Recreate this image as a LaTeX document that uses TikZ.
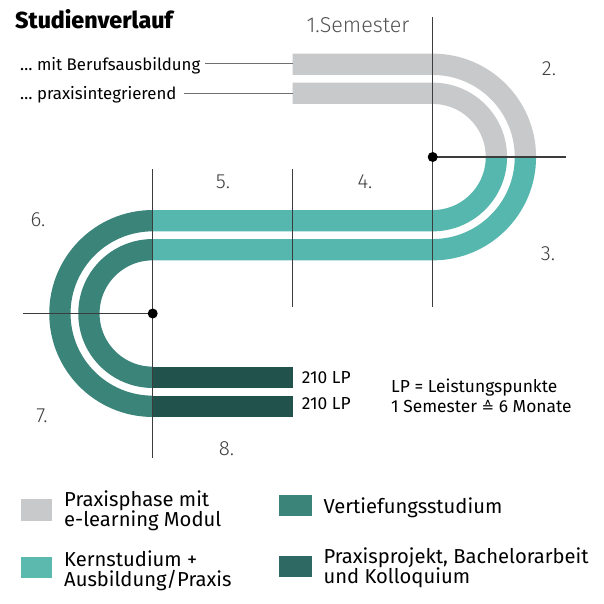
\documentclass[tikz,border=0pt]{standalone}
\usepackage{fontspec}
\setmainfont{Fira Sans}
\newfontfamily\lightfont{Fira Sans Light}
\newfontfamily\heavyfont{Fira Sans ExtraBold}
\newfontfamily\symfont{DejaVu Sans}
\definecolor{cgray}{HTML}{C8C9CA}
\definecolor{cteal}{HTML}{55B7AD}
\definecolor{cvert}{HTML}{3A847A}
\definecolor{cdark}{HTML}{22524C}
\definecolor{lteal}{HTML}{5BB9AE}
\definecolor{ldark}{HTML}{2F6963}
\definecolor{cline}{HTML}{3C3C3C}
\definecolor{cnum}{HTML}{404040}
\definecolor{clead}{HTML}{707070}
\tikzset{
  band/.style={line width=21.3pt, line cap=butt},
  gline/.style={draw=cline, line width=1.4pt},
  lead/.style={draw=clead, line width=1.1pt},
  num/.style={font=\lightfont\fontsize{20.5}{20.5}\selectfont, text=cnum, inner sep=0pt, anchor=center},
  small/.style={font=\fontsize{16.8}{16.8}\selectfont, inner sep=0pt, anchor=base west, text=black},
  note/.style={font=\fontsize{17.4}{17.4}\selectfont, inner sep=0pt, anchor=base west, text=black},
  leg/.style={font=\fontsize{20.2}{20.2}\selectfont, inner sep=0pt, anchor=base west, text=black},
}
\begin{document}
\begin{tikzpicture}[x=1pt,y=-1pt]
\useasboundingbox (0,0) rectangle (604,604);
\fill[white] (0,0) rectangle (604,604);
\coordinate (C1) at (432.7,157);
\coordinate (C2) at (152.7,313.5);
% bands
\draw[band,cgray] (292.7,64.3) -- (432.7,64.3) arc[start angle=-90,end angle=0,radius=92.7];
\draw[band,cgray] (292.7,93.3) -- (432.7,93.3) arc[start angle=-90,end angle=0,radius=63.7];
\draw[band,cteal] (525.4,157) arc[start angle=0,end angle=90,radius=92.7] -- (152.7,249.7);
\draw[band,cteal] (496.4,157) arc[start angle=0,end angle=90,radius=63.7] -- (152.7,220.7);
\draw[band,cvert] (152.7,220.7) arc[start angle=-90,end angle=-270,radius=92.8];
\draw[band,cvert] (152.7,249.7) arc[start angle=-90,end angle=-270,radius=63.8];
\draw[band,cdark] (152.7,377.3) -- (292.7,377.3);
\draw[band,cdark] (152.7,406.3) -- (292.7,406.3);
% grid lines
\coordinate (v1t) at (432.7,17);   \coordinate (v1b) at (432.7,307);
\coordinate (v2t) at (292.7,169);  \coordinate (v2b) at (292.7,307);
\coordinate (v3t) at (152.7,169);  \coordinate (v3b) at (152.7,458);
\coordinate (h1e) at (566,157);
\coordinate (h2e) at (23.3,313.5);
\draw[gline] (v1t) -- (v1b);
\draw[gline] (v2t) -- (v2b);
\draw[gline] (v3t) -- (v3b);
\draw[gline] (C1) -- (h1e);
\draw[gline] (C2) -- (h2e);
\fill[black] (C1) circle[radius=5];
\fill[black] (C2) circle[radius=5];
% title
\node[anchor=base west, inner sep=0pt, font=\heavyfont\fontsize{23.2}{23.2}\selectfont] (title) at (15,28.3) {Studienverlauf};
% leader labels
\node[small] (mb) at (20,70.3) {… mit Berufsausbildung};
\node[small] (pi) at (20,99.3) {… praxisintegrierend};
\coordinate (gb1) at (292.7,63.3);
\coordinate (gb2) at (292.7,93.3);
\draw[lead] (205,63.3) -- (gb1);
\draw[lead] (184.3,93.3) -- (gb2);
% numbers
\node[num, font=\lightfont\fontsize{21.5}{21.5}\selectfont, text=cnum!90] (s1) at (358,25.5) {1.Semester};
\node[num] (n2) at (549,69) {2.};
\node[num] (n3) at (548,254) {3.};
\node[num] (n4) at (365,182) {4.};
\node[num] (n5) at (223,182) {5.};
\node[num] (n6) at (38,219.5) {6.};
\node[num] (n7) at (42,416) {7.};
\node[num] (n8) at (226.5,449) {8.};
% LP
\node[note] (lp1) at (301.7,383) {210 LP};
\node[note] (lp2) at (301.7,409.5) {210 LP};
\node[note] (lpa) at (391,392.7) {LP = Leistungspunkte};
\node[note] (lpb) at (391,412.7) {1 Semester {\symfont\fontsize{15}{15}\selectfont ≙} 6 Monate};
% legend
\fill[cgray] (20.7,499) rectangle (52.3,520.7);
\fill[lteal] (20.7,556.7) rectangle (52.3,577.7);
\fill[cvert] (279,495) rectangle (311.7,516);
\fill[ldark] (279,556) rectangle (311.7,577);
\node[leg] (l1a) at (64,506.7) {Praxisphase mit};
\node[leg] (l1b) at (64,526.7) {e-learning Modul};
\node[leg] (l2a) at (64,566) {Kernstudium +};
\node[leg] (l2b) at (64,586) {Ausbildung/Praxis};
\node[leg] (l3a) at (323.3,513.3) {Vertiefungsstudium};
\node[leg] (l4a) at (323.3,563.3) {Praxisprojekt, Bachelorarbeit};
\node[leg] (l4b) at (323.3,583.3) {und Kolloquium};
\end{tikzpicture}
\end{document}
